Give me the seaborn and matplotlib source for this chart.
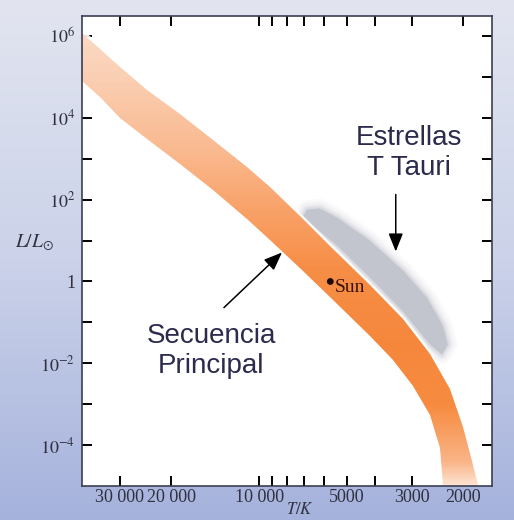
import numpy as np
import matplotlib
matplotlib.use("Agg")
import matplotlib.pyplot as plt
import seaborn as sns
from matplotlib.colors import LinearSegmentedColormap, Normalize
from matplotlib.patches import Polygon
from matplotlib.ticker import FixedLocator, FixedFormatter, NullFormatter

# ---------------- data ----------------
# Main sequence band: upper and lower edges (temperature K, luminosity L/Lsun)
ms_upper_T = [46000, 40460, 35150, 30000, 24220, 18670, 14390, 11010, 9180, 7070,
              5670, 4170, 3212, 2597, 2217, 2000, 1864, 1778, 1735]
ms_upper_L = [3.0e6, 1.22e6, 4.7e5, 1.71e5, 4.9e4, 1.21e4, 2.8e3, 613, 199, 32.8,
              6.78, 0.798, 0.118, 0.0164, 2.29e-3, 2.7e-4, 3.97e-5, 1.03e-5, 2.7e-6]
ms_lower_T = [46000, 40460, 35150, 30000, 24220, 18670, 14390, 11010, 9180, 7070,
              5670, 4170, 3475, 2967, 2597, 2399, 2343, 2330]
ms_lower_L = [1.9e5, 7.8e4, 3.15e4, 1.02e4, 2.96e3, 726, 177, 32.8, 10.05, 1.76,
              0.384, 0.0452, 0.0117, 2.71e-3, 5.3e-4, 8.7e-5, 1.03e-5, 2.7e-6]

# T Tauri region outline
tt_T = [7070, 6850, 6190, 5410, 4170, 3212, 2658, 2343, 2252, 2361, 2597, 3212, 4170,
        5410, 6190, 6964]
tt_L = [38.8, 57.5, 61, 36.7, 10.0, 1.86, 0.406, 0.084, 0.0288, 0.0164, 0.0288, 0.185,
        1.25, 7.6, 16.7, 32.8]

# Sun
sun_T = [5700]
sun_L = [1.0]

# axis ticks
x_major = [30000, 20000, 10000, 5000, 3000, 2000]
x_major_labels = ["30 000", "20 000", "10 000", "5000", "3000", "2000"]
x_minor = [9000, 8000, 7000, 6000, 4000]
y_major = [1e6, 1e4, 1e2, 1, 1e-2, 1e-4]
y_major_labels = [r"$10^{6}$", r"$10^{4}$", r"$10^{2}$", "1", r"$10^{-2}$", r"$10^{-4}$"]
y_minor = [1e5, 1e3, 1e1, 1e-1, 1e-3]

# annotations (text, text position, arrow start, arrow tip)
tt_label = "Estrellas\nT Tauri"
tt_label_pos = (3060, 1350)
tt_arrow_from = (3400, 134)
tt_arrow_to = (3400, 5.4)
ms_label = "Secuencia\nPrincipal"
ms_label_pos = (14600, 0.020)
ms_arrow_from = (13200, 0.23)
ms_arrow_to = (8350, 5.1)

# ---------------- styling ----------------
sns.set_theme(style="white")
plt.rcParams['font.family'] = ['Liberation Serif', 'DejaVu Serif']
plt.rcParams['mathtext.fontset'] = 'stix'

fig = plt.figure(figsize=(5.14, 5.20), dpi=100)

# background gradient
bg = fig.add_axes([0, 0, 1, 1], zorder=0)
grad = np.linspace(0, 1, 256).reshape(-1, 1)
bg_cmap = LinearSegmentedColormap.from_list('bg', ['#e2e5f0', '#cbd2e9', '#a5b2dc'])
bg.imshow(grad, aspect='auto', cmap=bg_cmap, extent=[0, 1, 0, 1], origin='upper')
bg.set_axis_off()

ax = fig.add_axes([0.1595, 0.0654, 0.7977, 0.9038], zorder=1)
ax.set_facecolor('white')
ax.set_xscale('log')
ax.set_yscale('log')
ax.set_xlim(40500, 1590)
ax.set_ylim(1e-5, 10 ** 6.49)

# T Tauri region (soft grey)
gray = '#c2c5cd'
for lw, a in [(14, 0.08), (10, 0.12), (6, 0.2), (3, 0.35)]:
    ax.fill(tt_T, tt_L, facecolor='none', edgecolor=gray, lw=lw, alpha=a,
            joinstyle='round', zorder=1)
ax.fill(tt_T, tt_L, color=gray, lw=0, zorder=1.2)

# main sequence band with gradient
verts = list(zip(ms_upper_T, ms_upper_L)) + list(zip(ms_lower_T[::-1], ms_lower_L[::-1]))
band_cmap = LinearSegmentedColormap.from_list('band', [
    (0.00, '#fde3d1'), (0.05, '#f9b487'), (0.17, '#f68b40'), (0.30, '#f5873c'),
    (0.46, '#f68d45'), (0.58, '#f8a066'), (0.71, '#f9b88e'), (0.88, '#fad0b5'),
    (1.00, '#fbdcc8')])
Tg = np.logspace(np.log10(1400), np.log10(50000), 300)
Lg = np.logspace(-6.5, 7, 500)
C = np.repeat(np.log10(Lg)[:, None], len(Tg), axis=1)

# soft halo of the band
halo = Polygon(verts, closed=True, facecolor='none', edgecolor='white', lw=4,
               alpha=0.9, joinstyle='round', transform=ax.transData, zorder=1.8)
ax.add_patch(halo)

band = Polygon(verts, closed=True, facecolor='none', edgecolor='none',
               transform=ax.transData)
ax.add_patch(band)
mesh = ax.pcolormesh(Tg, Lg, C, cmap=band_cmap, norm=Normalize(-5.0, 6.5),
                     shading='auto', zorder=2, rasterized=True)
mesh.set_clip_path(band)

# Sun
sns.scatterplot(x=sun_T, y=sun_L, ax=ax, color='#1a0a05', s=24, edgecolor='none',
                zorder=5, legend=False)
ax.annotate("Sun", xy=(sun_T[0], sun_L[0]), xytext=(3, 2), textcoords='offset points',
            ha='left', va='top', fontsize=14, color='#3a1208',
            family='Liberation Serif', zorder=6)

# annotations
ax.text(*tt_label_pos, tt_label, ha='center', va='center', fontsize=20,
        family='Liberation Sans', color='#2b2b4d', linespacing=1.2, zorder=6)
ax.text(*ms_label_pos, ms_label, ha='center', va='center', fontsize=20,
        family='Liberation Sans', color='#2b2b4d', linespacing=1.2, zorder=6)
arrow_style = dict(arrowstyle='-|>,head_length=0.55,head_width=0.22', mutation_scale=20,
                   color='black', lw=1.1, shrinkA=0, shrinkB=0)
ax.annotate("", xy=tt_arrow_to, xytext=tt_arrow_from, arrowprops=arrow_style, zorder=6)
ax.annotate("", xy=ms_arrow_to, xytext=ms_arrow_from, arrowprops=arrow_style, zorder=6)

# ticks
ax.xaxis.set_major_locator(FixedLocator(x_major))
ax.xaxis.set_major_formatter(FixedFormatter(x_major_labels))
ax.xaxis.set_minor_locator(FixedLocator(x_minor))
ax.xaxis.set_minor_formatter(NullFormatter())
ax.yaxis.set_major_locator(FixedLocator(y_major))
ax.yaxis.set_major_formatter(FixedFormatter(y_major_labels))
ax.yaxis.set_minor_locator(FixedLocator(y_minor))
ax.yaxis.set_minor_formatter(NullFormatter())
ax.tick_params(which='both', direction='in', length=7, width=1.4, color='black',
               top=True, right=True, bottom=True, left=True)
ax.tick_params(axis='both', which='major', labelsize=13, labelcolor='#30303f')
ax.tick_params(axis='x', pad=2)
ax.tick_params(axis='y', pad=5)
for s in ax.spines.values():
    s.set_color('#3b3f52')
    s.set_linewidth(1.2)

ax.set_ylabel(r"$L/L_{\odot}$", rotation=0, fontsize=14, color='#30303f', ha='center', va='center')
ax.yaxis.set_label_coords(-0.117, 0.517)
ax.set_xlabel(r"$T/K$", fontsize=12, color='#30303f', ha='center', va='bottom')
ax.xaxis.set_label_coords(0.532, -0.068)

fig.savefig("out.png", dpi=100)
